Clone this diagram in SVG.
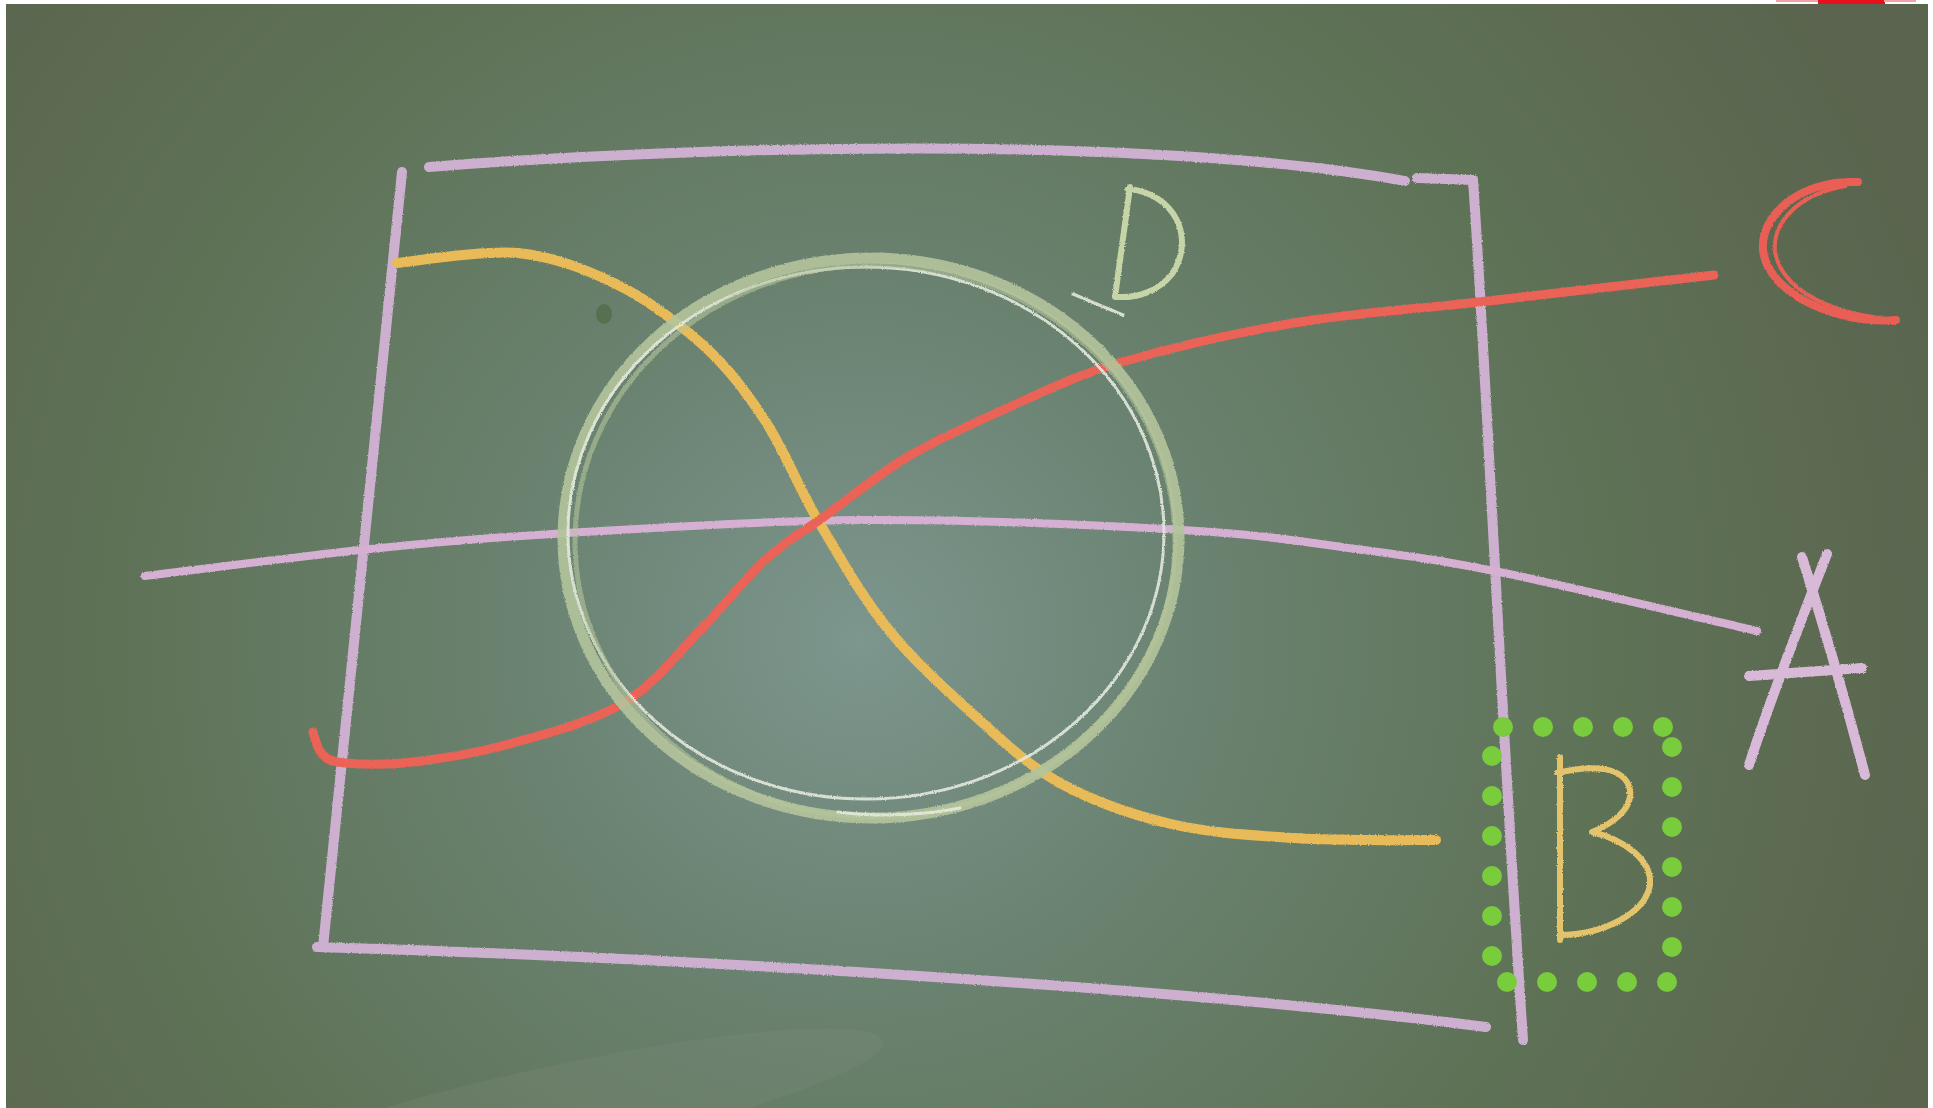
<svg xmlns="http://www.w3.org/2000/svg" width="1933" height="1108" viewBox="0 0 1933 1108">
<defs>
<radialGradient id="board" cx="860" cy="640" r="1150" gradientUnits="userSpaceOnUse">
<stop offset="0" stop-color="#7d968e"/>
<stop offset="0.3" stop-color="#6a8270"/>
<stop offset="0.65" stop-color="#5e7256"/>
<stop offset="1" stop-color="#5a644e"/>
</radialGradient>
<filter id="grain" x="-5%" y="-5%" width="110%" height="110%">
<feTurbulence type="fractalNoise" baseFrequency="0.9" numOctaves="2" seed="3" result="n"/>
<feDisplacementMap in="SourceGraphic" in2="n" scale="2.5" xChannelSelector="R" yChannelSelector="G"/>
</filter>
<style>
.chalk{fill:none;stroke-linecap:round;stroke-linejoin:round}
.frame{stroke:#cdb0cf;stroke-width:10}
.aline{stroke:#d6b0d2;stroke-width:8}
.yel{stroke:#e9bb58;stroke-width:10}
.red{stroke:#ea6357;stroke-width:9}
.ring{stroke:#b4c49b;stroke-width:11;opacity:.9}
.ringw{stroke:#e2e9db;stroke-width:3;opacity:.9}
.dot{fill:#79cc3c}
.letB{stroke:#e3c46c;stroke-width:6}
.letA{stroke:#d8b9d8;stroke-width:10}
.letC{stroke:#ea5e55;stroke-width:8}
.letD{stroke:#c6d5a8;stroke-width:6}
</style>
</defs>
<rect x="0" y="0" width="1933" height="1108" fill="url(#board)"/>
<ellipse cx="604" cy="314" rx="8" ry="10" fill="#4f6a45" opacity=".7"/>
<ellipse cx="560" cy="1110" rx="330" ry="45" fill="#8a9585" opacity=".18" transform="rotate(-12 560 1110)"/>
<rect x="0" y="0" width="6" height="1108" fill="#ffffff"/>
<rect x="0" y="0" width="1933" height="4" fill="#ffffff"/>
<rect x="1928" y="0" width="5" height="1108" fill="#ffffff"/>
<rect x="1776" y="0" width="43" height="2" fill="#f4a0a8"/>
<rect x="1818" y="0" width="67" height="4" fill="#e8101c"/>
<rect x="1884" y="0" width="32" height="2" fill="#f4a0a8"/>

<g filter="url(#grain)">
<g id="connectors">
<g id="frame">
<path class="chalk frame" d="M429,167 C700,145 1150,135 1405,181"/>
<path class="chalk frame" d="M1417,178 L1473,180"/>
<path class="chalk frame" d="M402,172 L323,947"/>
<path class="chalk frame" d="M1473,180 C1485,350 1500,700 1523,1040"/>
<path class="chalk frame" d="M317,947 C700,958 1200,990 1486,1027"/>
</g>
<path id="line-A" class="chalk aline" d="M145,576 C182.5,571.5 299.7,556.2 370,549 C440.3,541.8 484.8,537.8 567,533 C649.2,528.2 760.3,520.5 863,520 C965.7,519.5 1100.8,525.2 1183,530 C1265.2,534.8 1302.5,541.8 1356,549 C1409.5,556.2 1437.2,559.3 1504,573 C1570.8,586.7 1714.8,621.3 1757,631"/>
<path id="line-B" class="chalk yel" d="M397,263 C417,261 482,250 518,253 C555,257 585,269 616,284 C647,299 678,323 703,345 C728,368 744,389 764,419 C784,449 799,489 820,524 C841,559 862,597 888,629 C914,661 945,689 974,715 C1003,741 1027,765 1060,783 C1093,801 1132,815 1171,824 C1210,833 1250,835 1294,838 C1338,841 1412,840 1436,840"/>
<path id="line-C" class="chalk red" d="M313,732 C314.5,735.7 316.7,748.8 322,754 C327.3,759.2 329.8,761.7 345,763 C360.2,764.3 385,765.3 413,762 C441,758.7 477.7,753 513,743 C548.3,733 593,721.7 625,702 C657,682.3 681.7,648.7 705,625 C728.3,601.3 745,578.2 765,560 C785,541.8 801,533.3 825,516 C849,498.7 877.5,474.5 909,456 C940.5,437.5 979,420.5 1014,405 C1049,389.5 1072.3,376.7 1119,363 C1165.7,349.3 1234,333.2 1294,323 C1354,312.8 1409,310 1479,302 C1549,294 1674.8,279.5 1714,275"/>
</g>

<g id="node-D-set">
<ellipse class="chalk ring" cx="871" cy="538" rx="308" ry="280"/>
<ellipse class="chalk ringw" cx="866" cy="533" rx="298" ry="266"/>
<ellipse class="chalk ring" cx="875" cy="541" rx="300" ry="276" style="stroke-width:5;opacity:.6"/>
<path class="chalk ringw" d="M838,812 C880,818 930,814 960,808" style="stroke-width:3"/>
<path class="chalk ringw" d="M1073,294 L1123,315" style="stroke-width:3"/>
</g>

<g id="label-D">
<path class="chalk letD" d="M1130,187 L1115,297"/>
<path class="chalk letD" d="M1128,189 C1175,193 1196,238 1172,274 C1158,292 1136,298 1118,297"/>
</g>

<g id="label-C">
<path class="chalk letC" d="M1858,182 C1800,180 1760,215 1763,250 C1768,295 1840,325 1896,320"/>
<path class="chalk letC" d="M1845,186 C1795,195 1772,225 1775,252 C1782,290 1830,312 1880,318" style="stroke-width:4"/>
</g>

<g id="label-A">
<path class="chalk letA" d="M1827,554 C1805,610 1770,700 1749,765"/>
<path class="chalk letA" d="M1802,557 C1825,630 1848,710 1865,775"/>
<path class="chalk letA" d="M1749,676 L1862,668"/>
</g>

<g id="label-B">
<path class="chalk letB" d="M1560,757 L1560,940"/>
<path class="chalk letB" d="M1557,773 C1590,765 1625,765 1630,790 C1633,810 1610,825 1592,832 C1625,840 1652,860 1650,885 C1645,915 1600,935 1560,935"/>
</g>
</g>
<g id="B-dots">
<circle class="dot" cx="1503" cy="727" r="10"/>
<circle class="dot" cx="1543" cy="727" r="10"/>
<circle class="dot" cx="1583" cy="727" r="10"/>
<circle class="dot" cx="1623" cy="727" r="10"/>
<circle class="dot" cx="1663" cy="727" r="10"/>
<circle class="dot" cx="1672" cy="747" r="10"/>
<circle class="dot" cx="1672" cy="787" r="10"/>
<circle class="dot" cx="1672" cy="827" r="10"/>
<circle class="dot" cx="1672" cy="867" r="10"/>
<circle class="dot" cx="1672" cy="907" r="10"/>
<circle class="dot" cx="1672" cy="947" r="10"/>
<circle class="dot" cx="1492" cy="756" r="10"/>
<circle class="dot" cx="1492" cy="796" r="10"/>
<circle class="dot" cx="1492" cy="836" r="10"/>
<circle class="dot" cx="1492" cy="876" r="10"/>
<circle class="dot" cx="1492" cy="916" r="10"/>
<circle class="dot" cx="1492" cy="956" r="10"/>
<circle class="dot" cx="1507" cy="982" r="10"/>
<circle class="dot" cx="1547" cy="982" r="10"/>
<circle class="dot" cx="1587" cy="982" r="10"/>
<circle class="dot" cx="1627" cy="982" r="10"/>
<circle class="dot" cx="1667" cy="982" r="10"/>
</g>
</svg>
